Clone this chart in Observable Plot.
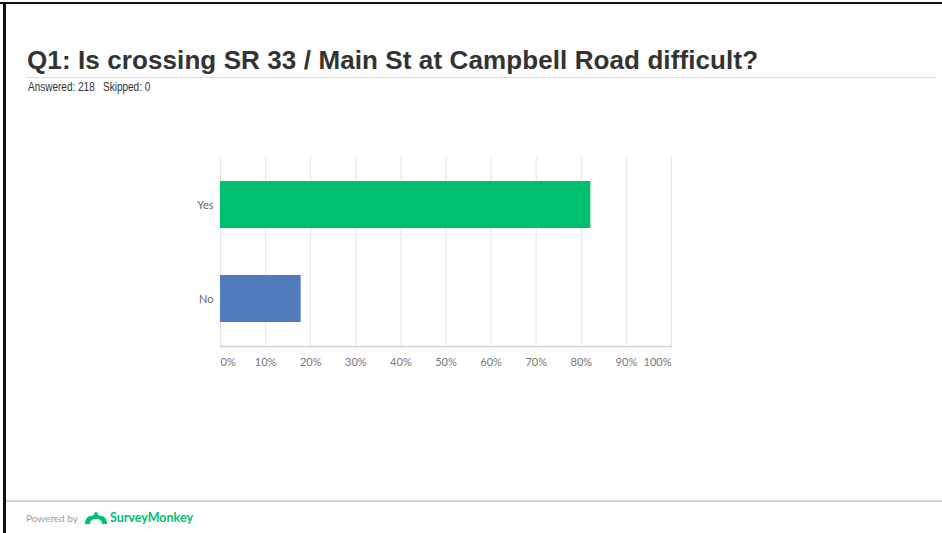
<!DOCTYPE html>
<html>
<head>
<meta charset="utf-8">
<script src="https://cdn.jsdelivr.net/npm/d3@7"></script>
<script src="https://cdn.jsdelivr.net/npm/@observablehq/plot@0.6"></script>
<style>
  html, body { margin: 0; padding: 0; background: #fff; }
  #page { position: relative; width: 942px; height: 533px; overflow: hidden; background: #fff; }
  .bline { position: absolute; background: #111; }
  #title { position: absolute; left: 27px; top: 45px; font-family: "Liberation Sans", Arial, sans-serif; font-weight: bold; font-size: 26px; letter-spacing: 0.1px; color: #333; white-space: nowrap; }
  #rule { position: absolute; left: 26px; top: 77px; width: 910px; height: 1px; background: #ddd; }
  #sub { position: absolute; left: 28px; top: 80px; font-family: "Liberation Sans", Arial, sans-serif; font-size: 12.5px; color: #333; white-space: pre; transform: scaleX(0.8); transform-origin: 0 0; }
  #chart { position: absolute; left: 0; top: 130px; }
  #footrule { position: absolute; left: 6px; top: 500px; width: 936px; height: 2px; background: #d4d4d4; }
  #footer { position: absolute; left: 26px; top: 510px; display: flex; align-items: center; font-family: Lato, "Open Sans", sans-serif; }
  #footer .pb { font-size: 10px; color: #a0a0a0; margin-right: 6px; }
  #footer .sm { font-size: 12.5px; font-weight: bold; color: #00bf6f; margin-left: 2px; }
</style>
</head>
<body>
<div id="page">
  <div class="bline" style="left:0;top:2px;width:942px;height:2px;"></div>
  <div class="bline" style="left:3px;top:2px;width:3px;height:531px;"></div>
  <div id="title">Q1: Is crossing SR 33 / Main St at Campbell Road difficult?</div>
  <div id="rule"></div>
  <div id="sub">Answered: 218   Skipped: 0</div>
  <div id="chart"></div>
  <div id="footrule"></div>
  <div id="footer">
    <span class="pb">Powered by</span>
    <svg width="24" height="14" viewBox="0 0 24 14">
      <path d="M1 13 C1 7 5 4 9 5 C10 2 14 2 15 5 C19 4 23 7 23 13 L18 13 C18 10 16 8 12 8 C8 8 6 10 6 13 Z" fill="#00bf6f"/>
      <circle cx="12" cy="2.5" r="1.6" fill="#00bf6f"/>
    </svg>
    <span class="sm">SurveyMonkey</span>
  </div>
</div>
<script>
const categories = ["Yes", "No"];
const percents = [82.11, 17.89];
const barColors = ["#00bf6f", "#507cbb"];
const tickValues = [0, 10, 20, 30, 40, 50, 60, 70, 80, 90, 100];

const data = categories.map((c, i) => ({answer: c, pct: percents[i], color: barColors[i]}));
const midTicks = tickValues.filter(t => t > 0 && t < 100);

const chart = Plot.plot({
  width: 942,
  height: 250,
  marginLeft: 220,
  marginRight: 271,
  marginTop: 27,
  marginBottom: 34,
  style: {fontFamily: "Lato, 'Open Sans', sans-serif", fontSize: "11px", color: "#777", background: "transparent"},
  x: {domain: [0, 100]},
  y: {domain: categories, paddingInner: 0.5, paddingOuter: 0.25},
  marks: [
    Plot.gridX(tickValues, {stroke: "#e6e6e6", strokeOpacity: 1, strokeWidth: 1}),
    Plot.barX(data, {x: "pct", y: "answer", fill: "color"}),
    Plot.frame({anchor: "bottom", stroke: "#d0d0d0", strokeWidth: 1.5}),
    Plot.axisX(midTicks, {tickSize: 0, tickPadding: 12, tickFormat: d => d + "%", fill: "#777", label: null}),
    Plot.axisX([0], {tickSize: 0, tickPadding: 12, tickFormat: d => d + "%", textAnchor: "start", fill: "#777", label: null}),
    Plot.axisX([100], {tickSize: 0, tickPadding: 12, tickFormat: d => d + "%", textAnchor: "end", fill: "#777", label: null}),
    Plot.axisY({tickSize: 0, tickPadding: 7, fill: "#666", label: null})
  ]
});
document.getElementById("chart").appendChild(chart);
</script>
</body>
</html>
